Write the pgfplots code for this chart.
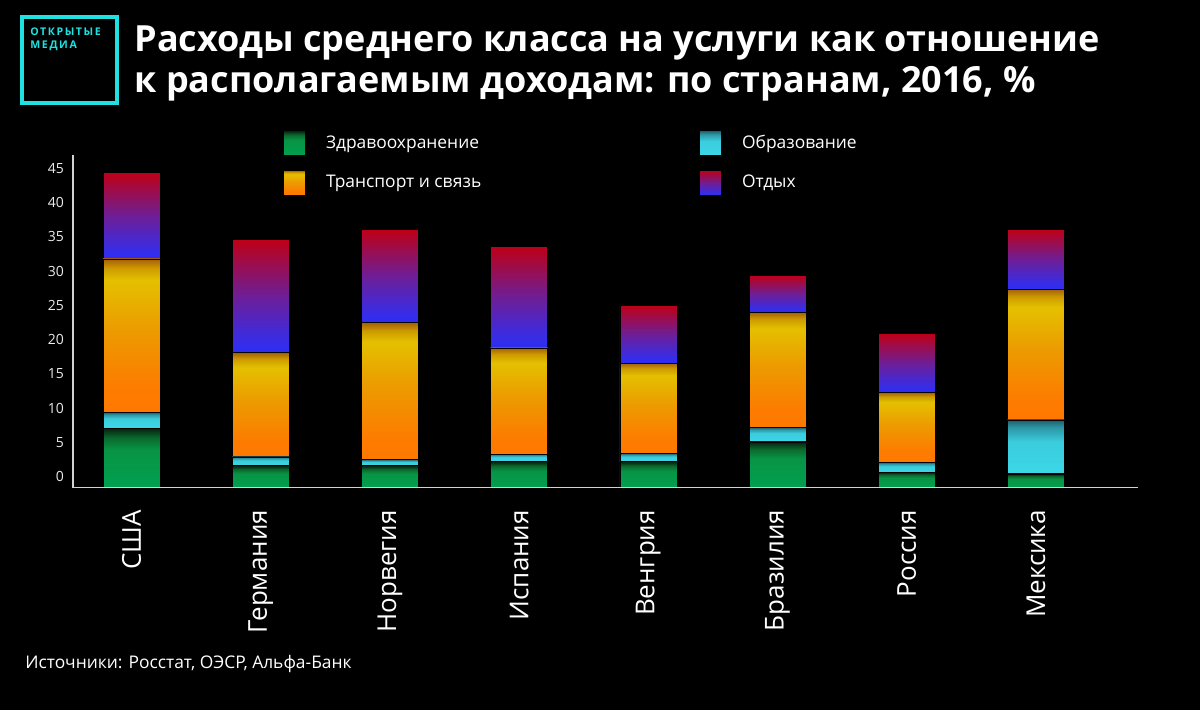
\documentclass[border=0pt]{standalone}
\usepackage{fontspec}
\setmainfont{Open Sans}
\newfontfamily\logofont[LetterSpace=15]{Open Sans Bold}
\usepackage{pgfplots}
\pgfplotsset{compat=1.18}
\definecolor{logocyan}{RGB}{30,225,225}
\definecolor{axisgray}{RGB}{210,210,210}
\definecolor{hA}{RGB}{0,160,80}
\definecolor{hB}{RGB}{8,148,68}
\definecolor{hC}{RGB}{10,105,45}
\definecolor{hD}{RGB}{5,32,16}
\definecolor{eA}{RGB}{60,215,230}
\definecolor{eB}{RGB}{58,205,222}
\definecolor{eC}{RGB}{45,150,165}
\definecolor{eD}{RGB}{30,95,105}
\definecolor{tA}{RGB}{255,120,0}
\definecolor{tB}{RGB}{253,124,0}
\definecolor{tC}{RGB}{236,155,0}
\definecolor{tD}{RGB}{228,192,0}
\definecolor{tE}{RGB}{205,155,0}
\definecolor{tF}{RGB}{165,95,10}
\definecolor{lA}{RGB}{45,45,245}
\definecolor{lB}{RGB}{55,45,230}
\definecolor{lC}{RGB}{110,30,150}
\definecolor{lD}{RGB}{190,0,22}
% vertical shadings: visible part 25bp (bottom) to 75bp (top)
\pgfdeclareverticalshading{health}{100bp}{
  color(0bp)=(hA); color(25bp)=(hA); color(57bp)=(hB);
  color(67bp)=(hC); color(75bp)=(hD); color(100bp)=(hD)}
\pgfdeclareverticalshading{educ}{100bp}{
  color(0bp)=(eA); color(25bp)=(eA); color(55bp)=(eB);
  color(68bp)=(eC); color(75bp)=(eD); color(100bp)=(eD)}
\pgfdeclareverticalshading{transp}{100bp}{
  color(0bp)=(tA); color(25bp)=(tA); color(33bp)=(tB); color(52bp)=(tC);
  color(68bp)=(tD); color(72bp)=(tE); color(75bp)=(tF); color(100bp)=(tF)}
\pgfdeclareverticalshading{leis}{100bp}{
  color(0bp)=(lA); color(25bp)=(lA); color(30bp)=(lB);
  color(50bp)=(lC); color(75bp)=(lD); color(100bp)=(lD)}

\pgfplotsset{
  base/.style={
    at={(36.5pt,-243.85pt)}, anchor=south west,
    scale only axis, width=532.5pt, height=166.35pt,
    xmin=-0.453, xmax=7.79, ymin=0, ymax=48.57,
  },
  bars/.style={base, hide axis, ybar stacked, bar width=28.5pt},
  bhealth/.style={shade, shading=health, draw=black, line width=0.3pt},
  beduc/.style={shade, shading=educ, draw=black, line width=0.3pt},
  btransp/.style={shade, shading=transp, draw=black, line width=0.3pt},
  bleis/.style={shade, shading=leis, draw=black, line width=0.3pt},
}
% one axis per country so that every bar segment gets its own gradient
% #1 position, #2 health, #3 education, #4 transport, #5 leisure
\newcommand{\country}[5]{%
  \begin{axis}[bars]
    \addplot[bhealth] coordinates {(#1,#2)};
    \addplot[beduc]   coordinates {(#1,#3)};
    \addplot[btransp] coordinates {(#1,#4)};
    \addplot[bleis]   coordinates {(#1,#5)};
  \end{axis}}

\begin{document}
\begin{tikzpicture}
\path[use as bounding box, fill=black] (0,0) rectangle (600pt,-355pt);
% logo
\draw[logocyan, line width=2pt] (11pt,-8.5pt) rectangle (58.5pt,-51.5pt);
\node[anchor=north west, inner sep=0pt, text=logocyan, align=left, font=\logofont\fontsize{5.3pt}{6.6pt}\selectfont] at (15pt,-13.8pt) {ОТКРЫТЫЕ\\МЕДИА};
% title
\node[anchor=base west, inner sep=0pt, text=white, font=\bfseries\fontsize{18pt}{20.5pt}\selectfont, align=left] at (67pt,-46.5pt) {Расходы среднего класса на услуги как отношение\\к располагаемым доходам: по странам, 2016, \%};
% source
\node[anchor=base west, inner sep=0pt, text=white, font=\fontsize{8.7pt}{10pt}\selectfont] at (12.5pt,-334.5pt) {Источники: Росстат, ОЭСР, Альфа-Банк};

%        x  health educ transport leisure
\country{0}{8.7}  {2.3}  {22.4}{12.6}
\country{1}{3.2}  {1.3}  {15.2}{16.6}
\country{2}{3.2}  {0.9}  {20.0}{13.6}
\country{3}{3.8}  {1.1}  {15.5}{14.8}
\country{4}{3.8}  {1.2}  {13.2}{8.4}
\country{5}{6.7}  {2.1}  {16.8}{5.4}
\country{6}{2.25} {1.45} {10.2}{8.6}
\country{7}{2.0}  {7.9}  {19.1}{8.7}

% axis lines, ticks and legend
\begin{axis}[
  base,
  axis lines*=left,
  axis line style={axisgray, line width=0.6pt},
  xtick={0,...,7},
  xticklabels={США,Германия,Норвегия,Испания,Венгрия,Бразилия,Россия,Мексика},
  xtick style={draw=none}, ytick style={draw=none},
  ytick={0,5,...,45},
  /pgf/number format/assume math mode=true,
  yticklabel style={text=white!92!black, font=\fontsize{7pt}{8pt}\selectfont, yshift=5.5pt, xshift=-1pt},
  xticklabel style={text=white, rotate=90, anchor=east, inner sep=0pt, font=\fontsize{13pt}{15pt}\selectfont},
  xticklabel shift=11pt,
  legend columns=2,
  legend style={draw=none, fill=none, text=white, at={(axis description cs:0.197,1.075)}, anchor=north west,
    font=\fontsize{8.7pt}{10pt}\selectfont, inner sep=0pt, row sep=7pt,
    /tikz/every odd column/.append style={column sep=8pt},
    /tikz/every even column/.append style={column sep=107pt}},
  legend cell align=left,
]
\addlegendimage{legend image code/.code={\shade[shading=health] (0pt,-6.25pt) rectangle (11pt,6.25pt);}}
\addlegendentry{Здравоохранение}
\addlegendimage{legend image code/.code={\shade[shading=educ] (0pt,-6.25pt) rectangle (11pt,6.25pt);}}
\addlegendentry{Образование}
\addlegendimage{legend image code/.code={\shade[shading=transp] (0pt,-6.25pt) rectangle (11pt,6.25pt);}}
\addlegendentry{Транспорт и связь}
\addlegendimage{legend image code/.code={\shade[shading=leis] (0pt,-6.25pt) rectangle (11pt,6.25pt);}}
\addlegendentry{Отдых}
\end{axis}
\end{tikzpicture}
\end{document}
